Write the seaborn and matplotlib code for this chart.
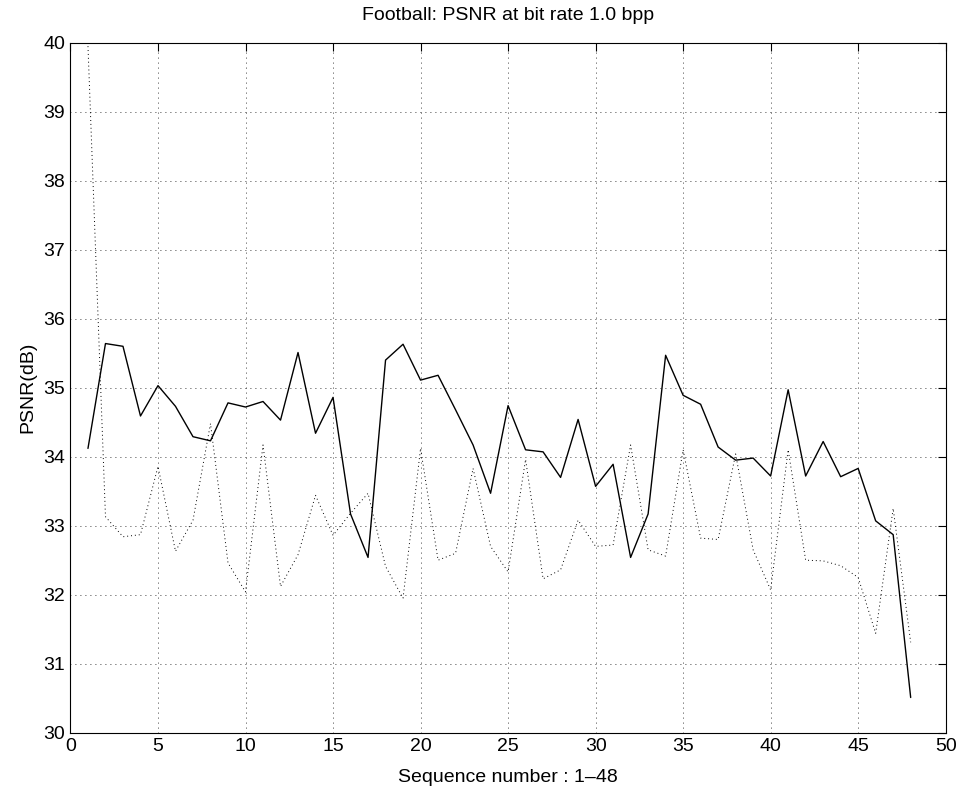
import matplotlib
matplotlib.use("Agg")
import matplotlib.pyplot as plt
import seaborn as sns
import pandas as pd
import numpy as np

seq = list(range(1, 49))
psnr_solid = [34.12, 35.64, 35.60, 34.59, 35.03, 34.73, 34.29, 34.23, 34.78, 34.72,
              34.80, 34.53, 35.51, 34.34, 34.86, 33.17, 32.54, 35.40, 35.63, 35.11,
              35.18, 34.68, 34.17, 33.47, 34.74, 34.10, 34.07, 33.70, 34.54, 33.57,
              33.89, 32.54, 33.17, 35.47, 34.89, 34.76, 34.14, 33.95, 33.98, 33.72,
              34.97, 33.72, 34.22, 33.71, 33.83, 33.07, 32.87, 30.51]
psnr_dotted = [39.95, 33.13, 32.84, 32.87, 33.86, 32.63, 33.08, 34.48, 32.46, 32.04,
               34.17, 32.12, 32.58, 33.44, 32.86, 33.18, 33.47, 32.41, 31.95, 34.12,
               32.50, 32.60, 33.83, 32.70, 32.33, 33.96, 32.23, 32.36, 33.08, 32.70,
               32.72, 34.17, 32.65, 32.56, 34.10, 32.82, 32.80, 34.04, 32.65, 32.07,
               34.10, 32.50, 32.49, 32.42, 32.25, 31.44, 33.25, 31.31]

title = "Football: PSNR at bit rate 1.0 bpp"
xlabel = "Sequence number : 1\u201348"
ylabel = "PSNR(dB)"

df = pd.DataFrame({"seq": seq, "solid": psnr_solid, "dotted": psnr_dotted})

sns.set_style("white")
plt.rcParams['font.family'] = ['Liberation Sans', 'DejaVu Sans']
plt.rcParams['text.color'] = 'black'
plt.rcParams['axes.labelcolor'] = 'black'

fig = plt.figure(figsize=(9.64, 7.97), dpi=100)
ax = fig.add_axes([0.0731, 0.0807, 0.9079, 0.8657])

sns.lineplot(data=df, x="seq", y="solid", ax=ax, color="black", linewidth=1.0,
             linestyle="-")
sns.lineplot(data=df, x="seq", y="dotted", ax=ax, color="black", linewidth=0.7,
             linestyle=(0, (1, 3)))

ax.set_xlim(0, 50)
ax.set_ylim(30, 40)
ax.set_xticks(np.arange(0, 51, 5))
ax.set_yticks(np.arange(30, 41, 1))
ax.grid(True, color="black", linestyle=(0, (1, 5)), linewidth=0.6)
ax.tick_params(direction="in", length=6, width=0.8, labelsize=14,
               top=True, right=True, colors="black", pad=4)
for s in ax.spines.values():
    s.set_visible(True)
    s.set_color("black")
    s.set_linewidth(0.8)

ax.set_title(title, fontsize=14, pad=16, color="black")
ax.set_xlabel(xlabel, fontsize=14, labelpad=10)
ax.set_ylabel(ylabel, fontsize=14, labelpad=5)

fig.savefig("out.png", dpi=100, facecolor="white")
